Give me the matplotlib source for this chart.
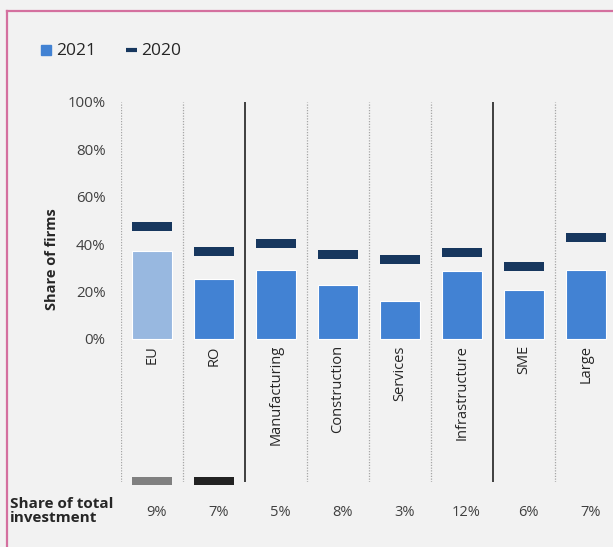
import numpy as np
import matplotlib.pyplot as plt
from matplotlib.patches import Rectangle
from matplotlib.lines import Line2D

plt.rcParams['font.family'] = ['Open Sans', 'DejaVu Sans']

categories = ['EU', 'RO', 'Manufacturing', 'Construction', 'Services',
              'Infrastructure', 'SME', 'Large']
share_2021 = [37.1, 25.1, 28.9, 22.5, 16.0, 28.6, 20.8, 28.9]
share_2020 = [47.4, 36.9, 40.3, 35.6, 33.5, 36.4, 30.5, 42.8]
invest_share = ['9%', '7%', '5%', '8%', '3%', '12%', '6%', '7%']
# reference markers for EU / RO at the bottom of the panel
ref_marker = [-60.1, -60.1]
ref_colors = ['#808080', '#222222']

bar_colors = ['#98b8e0'] + ['#4282d3'] * 7
dash_color = '#17375e'
bg = '#f2f2f2'

fig = plt.figure(figsize=(6.13, 5.47), dpi=100, facecolor=bg)
ax = fig.add_axes([121 / 613, 1 - 482 / 547, 496 / 613, 380 / 547])
ax.set_facecolor(bg)

x = np.arange(len(categories))
w = 0.66
ax.bar(x, share_2021, width=w, color=bar_colors, edgecolor='white',
       linewidth=0.8, zorder=3)
dash_h = 3.7
ax.bar(x, dash_h, bottom=np.array(share_2020) - dash_h / 2, width=w,
       color=dash_color, zorder=3)
ax.bar(x[:2], dash_h, bottom=np.array(ref_marker) - dash_h / 2, width=w,
       color=ref_colors, zorder=3, clip_on=False)

# separators between groups: solid between blocks, dotted inside
for i in range(len(categories)):
    pos = i - 0.5
    if i in (2, 6):
        ax.axvline(pos, color='#404040', lw=1.4, zorder=1)
    else:
        ax.axvline(pos, color='#a6a6a6', lw=0.9, ls=(0, (1, 1.2)), zorder=1)

ax.set_xlim(-0.5, 7.5)
ax.set_ylim(-60.5, 100)
ax.set_yticks([0, 20, 40, 60, 80, 100])
ax.set_yticklabels([f'{v}%' for v in range(0, 101, 20)], fontsize=10.8,
                   color='#404040')
ax.tick_params(axis='y', length=0, pad=11)
ax.set_xticks([])
for s in ax.spines.values():
    s.set_visible(False)

for i, name in enumerate(categories):
    ax.text(i, -2.7, name, rotation=90, ha='center', va='top',
            fontsize=10.5, color='#262626')

for i, v in enumerate(invest_share):
    fig.text((152.5 + 62 * i + 4) / 613, 1 - 513 / 547, v, ha='center',
             va='center', fontsize=10.5, color='#404040')

fig.text(52 / 613, 1 - 259 / 547, 'Share of firms', rotation=90,
         ha='center', va='center', fontsize=10.5, fontweight='bold',
         color='#262626')
fig.text(10 / 613, 1 - 511 / 547, 'Share of total\ninvestment', ha='left',
         va='center', fontsize=11, fontweight='bold', color='#262626',
         linespacing=1.0)

# legend drawn by hand: blue square for 2021, navy dash for 2020
leg_y = 1 - 50 / 547
fig.add_artist(Rectangle((41 / 613, leg_y - 5 / 547), 10 / 613, 10 / 547,
                         transform=fig.transFigure, color='#4282d3'))
fig.text(56 / 613, leg_y - 1 / 547, '2021', ha='left', va='center',
         fontsize=12.5, color='#262626')
fig.add_artist(Line2D([126 / 613, 137 / 613], [leg_y, leg_y],
                      transform=fig.transFigure, color=dash_color, lw=3,
                      solid_capstyle='butt'))
fig.text(141 / 613, leg_y - 1 / 547, '2020', ha='left', va='center',
         fontsize=12.5, color='#262626')

# pink frame on the left and top
fig.add_artist(Line2D([7 / 613, 7 / 613], [0, 1 - 10.5 / 547],
                      transform=fig.transFigure, color='#d4709f', lw=1.6))
fig.add_artist(Line2D([7 / 613, 1], [1 - 10.5 / 547, 1 - 10.5 / 547],
                      transform=fig.transFigure, color='#d4709f', lw=1.6))

fig.savefig('out.png', dpi=100, facecolor=bg)
